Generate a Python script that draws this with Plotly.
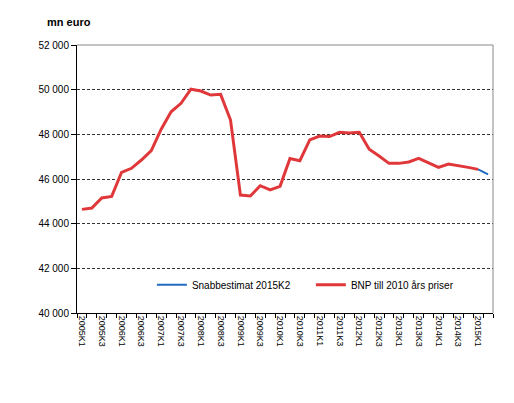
import plotly.graph_objects as go

# quarters 2005K1 .. 2015K2
quarters = [f"{y}K{q}" for y in range(2005, 2016) for q in range(1, 5)][:42]

# BNP till 2010 års priser, mn euro (2005K1 - 2015K1)
bnp = [44640, 44700, 45150, 45220, 46300, 46480, 46850, 47270, 48230, 49010,
       49390, 50020, 49940, 49760, 49790, 48640, 45280, 45240, 45700, 45510,
       45670, 46920, 46820, 47750, 47920, 47900, 48090, 48060, 48090, 47330,
       47030, 46700, 46700, 46760, 46920, 46730, 46520, 46670, 46610, 46520,
       46430]

# Snabbestimat 2015K2 (only last two quarters)
snabb_quarters = ["2015K1", "2015K2"]
snabb = [46430, 46210]

tick_text = [q if i % 2 == 0 else "" for i, q in enumerate(quarters)]

fig = go.Figure()
fig.add_trace(go.Scatter(x=snabb_quarters, y=snabb, mode="lines",
                         name="Snabbestimat 2015K2",
                         line=dict(color="#1f6cc0", width=2)))
fig.add_trace(go.Scatter(x=quarters[:len(bnp)], y=bnp, mode="lines",
                         name="BNP till 2010 års priser",
                         line=dict(color="#e0383a", width=3)))

# page body has an 8px margin, so the figure is made 8px smaller
fig.update_layout(
    width=506, height=395,
    margin=dict(l=69, r=21, t=37, b=90),
    paper_bgcolor="white", plot_bgcolor="white",
    font=dict(family="Liberation Sans, Arial", size=10, color="black"),
    separators=", ",
    showlegend=True,
    legend=dict(orientation="h", x=0.18, y=0.105, xanchor="left", yanchor="middle",
                bgcolor="rgba(0,0,0,0)", font=dict(size=10), entrywidth=114,
                traceorder="normal"),
    annotations=[dict(text="<b>mn euro</b>", x=(45 - 77) / 416, y=1 + (45 - 22) / 268,
                      xref="paper", yref="paper", xanchor="left", yanchor="middle",
                      showarrow=False, font=dict(size=11))],
)

fig.update_xaxes(type="category", categoryorder="array", categoryarray=quarters,
                 range=[-0.5, 41.5], tickmode="array", tickvals=quarters,
                 ticktext=tick_text, tickangle=90, tickson="boundaries",
                 ticks="outside", ticklen=4, tickcolor="black",
                 showline=True, linecolor="black", linewidth=1,
                 showgrid=False, tickfont=dict(size=9))
fig.update_yaxes(range=[40000, 52000], dtick=2000, tickformat=",d",
                 ticks="outside", ticklen=5, tickcolor="black",
                 showline=True, linecolor="black", linewidth=1,
                 showgrid=True, gridcolor="#333333", griddash="3px,2px", gridwidth=1,
                 zeroline=False, tickfont=dict(size=10))

# grey frame at top and right of plot area
fig.add_shape(type="line", xref="paper", yref="paper", x0=0, x1=1, y0=1, y1=1,
              line=dict(color="#888888", width=1))
fig.add_shape(type="line", xref="paper", yref="paper", x0=1, x1=1, y0=0, y1=1,
              line=dict(color="#888888", width=1))

fig.write_html("out.html")
